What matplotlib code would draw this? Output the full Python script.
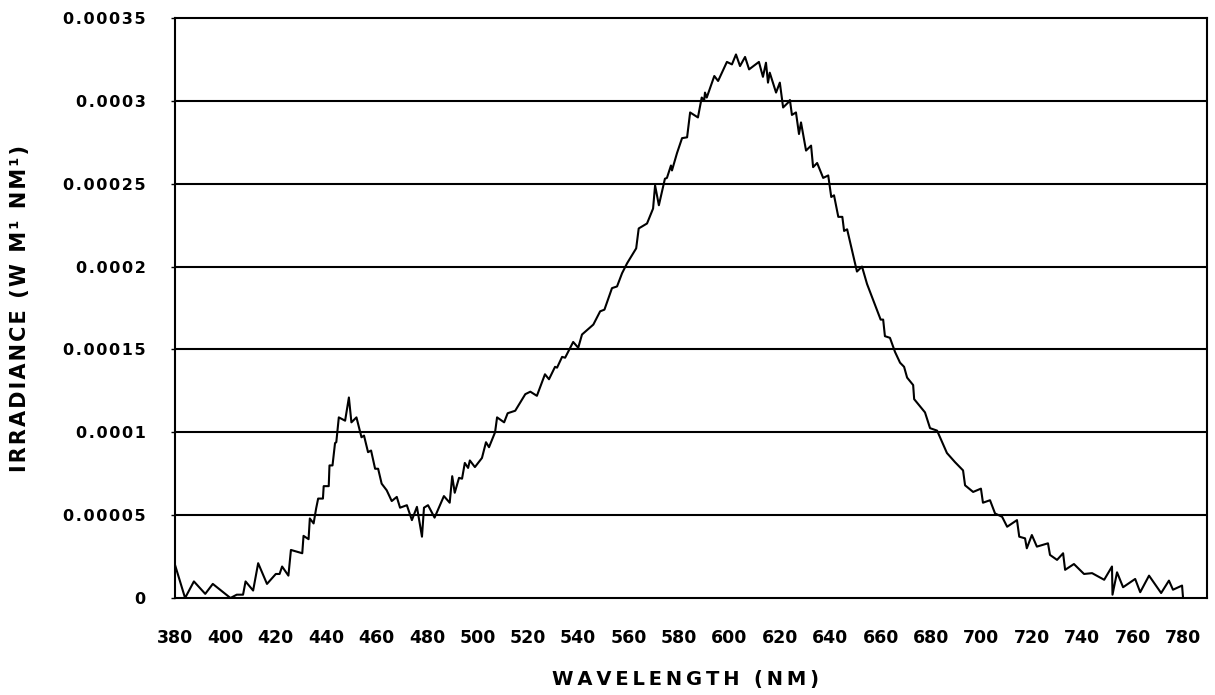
import matplotlib
matplotlib.use("Agg")
import matplotlib.pyplot as plt

wavelength = [380, 384, 387.5, 392, 395, 402, 404.5, 407, 408, 411, 413, 416.5, 420, 421.5, 422.5, 425, 426,
              430.5, 431, 433, 433.5, 435, 436, 436.8, 438.7, 439, 441, 441.3, 442.5, 443.5, 444, 445, 447.5,
              449, 450, 452, 454, 455, 456.6, 457.8, 459.4, 460.6, 462, 464, 466, 468, 469.3, 472, 474, 476,
              478, 478.8, 480.4, 483, 486.7, 489, 490, 491, 492.7, 493.9, 495, 496.3, 497, 499, 501.8, 503.4,
              504.6, 507, 507.8, 510.6, 512, 515, 519, 521, 523.6, 526.8, 528.4, 530.8, 531.6, 533.6, 534.8,
              538, 540, 541.5, 546, 548.7, 550.4, 553.4, 555.4, 557.4, 559.4, 563, 564, 567.3, 569.7, 570.5,
              572, 574.4, 575.2, 576.8, 577.2, 579.2, 581.2, 583.2, 584.4, 587.5, 589, 590, 590.3, 591, 594,
              595.5, 599, 601, 602.6, 604.2, 606.2, 607.8, 611.7, 613.3, 614.5, 615.3, 616, 618.5, 620, 621.3,
              623.3, 624, 624.8, 626.4, 627.6, 628.4, 630.4, 632.4, 633.2, 634.8, 637.2, 639.2, 640.4, 641.5,
              643.2, 644.8, 645.5, 646.7, 650.6, 652.6, 654.6, 660, 661, 661.7, 663.7, 665.7, 667.7, 669.3,
              670.5, 672.9, 673.3, 677.6, 679.6, 682.4, 686.3, 689.5, 692.7, 693.5, 696.7, 699.8, 700.6, 703.4,
              705.4, 708.2, 710.2, 714.1, 715, 717.3, 718, 720, 722, 726.4, 727.2, 730, 732.4, 733.2, 736.7,
              740.7, 743.9, 748.7, 751.8, 752, 753.8, 756.2, 761, 763, 766.5, 771.3, 774.4, 776, 779.6, 780]

irradiance_e5 = [2.0, 0.0, 1.0, 0.25, 0.85, 0.0, 0.2, 0.2, 1.0, 0.45, 2.1, 0.85, 1.45, 1.45, 1.9, 1.35, 2.9,
                 2.7, 3.75, 3.55, 4.8, 4.5, 5.4, 6.0, 6.0, 6.75, 6.75, 8.0, 8.0, 9.35, 9.4, 10.9, 10.7,
                 12.1, 10.6, 10.9, 9.7, 9.8, 8.8, 8.9, 7.8, 7.8, 6.9, 6.5, 5.85, 6.1, 5.45, 5.6, 4.7, 5.5,
                 3.7, 5.45, 5.6, 4.85, 6.15, 5.75, 7.35, 6.35, 7.25, 7.2, 8.15, 7.85, 8.3, 7.9, 8.45, 9.4,
                 9.1, 10.0, 10.9, 10.6, 11.15, 11.3, 12.3, 12.45, 12.2, 13.5, 13.2, 13.95, 13.9, 14.55, 14.5,
                 15.45, 15.1, 15.9, 16.5, 17.3, 17.4, 18.7, 18.8, 19.6, 20.2, 21.1, 22.3, 22.6, 23.5, 24.9,
                 23.7, 25.3, 25.35, 26.1, 25.8, 26.85, 27.75, 27.8, 29.3, 29.0, 30.2, 30.05, 30.5, 30.2, 31.5,
                 31.2, 32.35, 32.2, 32.8, 32.1, 32.65, 31.9, 32.35, 31.45, 32.3, 31.1, 31.7, 30.5, 31.1, 29.6,
                 29.9, 30.05, 29.15, 29.3, 28.0, 28.7, 27.0, 27.3, 26.0, 26.25, 25.35, 25.5, 24.2, 24.3,
                 23.0, 23.0, 22.15, 22.25, 19.7, 20.0, 18.95, 16.8, 16.8, 15.8, 15.7, 14.85, 14.2, 13.95,
                 13.3, 12.85, 12.0, 11.2, 10.25, 10.1, 8.75, 8.2, 7.7, 6.8, 6.4, 6.6, 5.75, 5.9,
                 5.1, 4.9, 4.3, 4.7, 3.7, 3.6, 3.0, 3.8, 3.1, 3.3, 2.6, 2.3, 2.7, 1.7, 2.05,
                 1.45, 1.5, 1.1, 1.9, 0.2, 1.55, 0.65, 1.15, 0.35, 1.35, 0.3, 1.05, 0.5, 0.75, 0.0]

irradiance = [v * 1e-5 for v in irradiance_e5]

x_ticks = list(range(380, 781, 20))
y_ticks = [0, 0.00005, 0.0001, 0.00015, 0.0002, 0.00025, 0.0003, 0.00035]
y_tick_labels = ["0", "0.00005", "0.0001", "0.00015", "0.0002", "0.00025", "0.0003", "0.00035"]
x_title = "WAVELENGTH (NM)"
y_title = "IRRADIANCE (W M¹ NM¹)"


def spaced(s, sep):
    return sep.join(s)


fig = plt.figure(figsize=(12.15, 6.95), dpi=100)
ax = fig.add_axes([175 / 1215, 1 - 598 / 695, (1207 - 175) / 1215, (598 - 18) / 695])

for yv in y_ticks[1:-1]:
    ax.axhline(yv, color="black", lw=1.5, zorder=1)

ax.plot(wavelength, irradiance, color="black", lw=1.5, zorder=3)

ax.set_xlim(380, 789.5)
ax.set_ylim(0, 0.00035)

for s in ax.spines.values():
    s.set_linewidth(1.5)
    s.set_color("black")

ax.set_yticks(y_ticks)
ax.set_yticklabels([spaced(t, "\u200a") for t in y_tick_labels], fontsize=11.5,
                   fontweight="bold", family="DejaVu Sans")
ax.tick_params(axis="y", length=3, width=1, pad=18)

ax.set_xticks(x_ticks)
ax.set_xticklabels([str(t) for t in x_ticks], fontsize=12.5, fontweight="bold",
                   family="DejaVu Sans")
ax.tick_params(axis="x", length=0, pad=22)

fig.text(685 / 1215, 1 - 679 / 695, spaced(x_title, "\u2009"),
         ha="center", va="center", fontsize=14, fontweight="bold", family="DejaVu Sans")
fig.text(20 / 1215, 1 - 308 / 695, spaced(y_title, "\u200a"), rotation=90,
         ha="center", va="center", fontsize=15, fontweight="bold", family="DejaVu Sans")

fig.savefig("out.png", dpi=100)
